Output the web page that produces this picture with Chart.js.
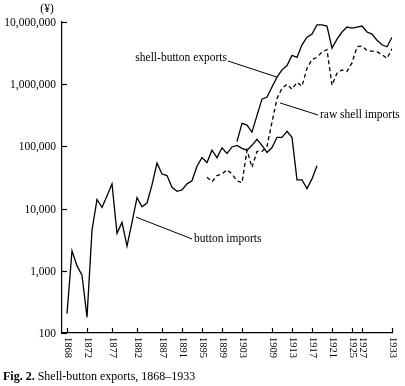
<!DOCTYPE html>
<html>
<head>
<meta charset="utf-8">
<script src="https://cdn.jsdelivr.net/npm/chart.js@4.4.1/dist/chart.umd.min.js"></script>
<style>
html, body { margin: 0; padding: 0; background: #fff; }
#wrap { position: relative; width: 405px; height: 386px; }
#caption { position: absolute; left: 3px; top: 369px; font: 12px "Liberation Serif", "Times New Roman", serif; color: #000; white-space: nowrap; line-height: 14px; }
</style>
</head>
<body>
<div id="wrap">
  <canvas id="chart" width="405" height="386"></canvas>
  <div id="caption"><b>Fig. 2.</b> Shell-button exports, 1868–1933</div>
</div>
<script>
// data (yen, log scale)
const buttonYears = [1868,1869,1870,1871,1872,1873,1874,1875,1876,1877,1878,1879,1880,1881,1882,1883,1884,1885,1886,1887,1888,1889,1890,1891,1892,1893,1894,1895,1896,1897,1898,1899,1900,1901,1902,1903,1904,1905,1906,1907,1908,1909,1910,1911,1912,1913,1914,1915,1916,1917,1918];
const buttonImports = [205,2100,1200,850,180,4500,14000,10500,16000,25000,4000,6000,2500,6000,15000,10700,12300,24000,54000,36000,34000,22000,19000,20000,25000,28000,48000,66000,55000,87000,66000,95000,77000,98000,104000,93000,87000,104000,130000,104000,80000,96000,140000,140000,175000,140000,29000,29000,21000,30000,49000];

const exportYears = [1902,1903,1904,1905,1906,1907,1908,1909,1910,1911,1912,1913,1914,1915,1916,1917,1918,1919,1920,1921,1922,1923,1924,1925,1926,1927,1928,1929,1930,1931,1932,1933];
const shellButtonExports = [120000,235000,220000,170000,315000,575000,620000,900000,1300000,1700000,2000000,2900000,2700000,4300000,5700000,6400000,9000000,9000000,8600000,3800000,5300000,6900000,8300000,8000000,8300000,8600000,6900000,6400000,5100000,4300000,4000000,5700000];

const shellYears = [1896,1897,1898,1899,1900,1901,1902,1903,1904,1905,1906,1907,1908,1909,1910,1911,1912,1913,1914,1915,1916,1917,1918,1919,1920,1921,1922,1923,1924,1925,1926,1927,1928,1929,1930,1931,1932,1933];
const rawShellImports = [32000,27000,34000,36000,42000,36000,28000,26000,87000,46000,83000,83000,100000,245000,590000,860000,1000000,830000,1070000,930000,1800000,2500000,2700000,3300000,3600000,960000,1500000,1700000,1600000,2200000,4000000,4100000,3500000,3400000,3300000,3000000,2600000,3700000];

const yTicks = [100, 1000, 10000, 100000, 1000000, 10000000];
const yTickLabels = ['100', '1,000', '10,000', '100,000', '1,000,000', '10,000,000'];
const xTickYears = [1868,1872,1877,1882,1887,1891,1895,1899,1903,1909,1913,1917,1921,1925,1927,1933];

// labels with leader lines, ends given in data units
const callouts = [
  { text: 'shell-button exports', from: [1900.2, 2360000], to: [1910, 1300000], side: 'left' },
  { text: 'raw shell imports', from: [1910.6, 500000], to: [1918.2, 320000], side: 'right' },
  { text: 'button imports', from: [1881.8, 7300], to: [1893, 3250], side: 'right' }
];

const FONT = '"Liberation Serif", "Times New Roman", serif';

const toPoints = (xs, ys) => xs.map((x, i) => ({ x: x, y: ys[i] }));

const axisDecor = {
  id: 'axisDecor',
  afterDraw(chart) {
    const ctx = chart.ctx;
    const xs = chart.scales.x, ys = chart.scales.y;
    const area = chart.chartArea;
    ctx.save();
    ctx.strokeStyle = '#000';
    ctx.fillStyle = '#000';
    ctx.lineWidth = 1.2;

    // y ticks (inward) + labels
    ctx.font = '11.5px ' + FONT;
    ctx.textAlign = 'right';
    ctx.textBaseline = 'middle';
    yTicks.forEach((v, i) => {
      const y = Math.round(ys.getPixelForValue(v)) + 0.5;
      ctx.beginPath();
      ctx.moveTo(area.left, y);
      ctx.lineTo(area.left + 5, y);
      ctx.stroke();
      ctx.fillText(yTickLabels[i], area.left - 6, y);
    });
    ctx.textAlign = 'center';
    ctx.fillText('(¥)', area.left - 15, area.top - 13);

    // x ticks (inward) + labels turned clockwise
    ctx.font = '10.5px ' + FONT;
    xTickYears.forEach(yr => {
      const x = Math.round(xs.getPixelForValue(yr)) + 0.5;
      ctx.beginPath();
      ctx.moveTo(x, area.bottom);
      ctx.lineTo(x, area.bottom - 5);
      ctx.stroke();
      ctx.save();
      ctx.translate(x, area.bottom + 4);
      ctx.rotate(Math.PI / 2);
      ctx.textAlign = 'left';
      ctx.textBaseline = 'middle';
      ctx.fillText(String(yr), 0, 0);
      ctx.restore();
    });

    // callouts
    ctx.font = '11.5px ' + FONT;
    ctx.lineWidth = 1;
    ctx.textBaseline = 'middle';
    callouts.forEach(c => {
      const x1 = xs.getPixelForValue(c.from[0]), y1 = ys.getPixelForValue(c.from[1]);
      const x2 = xs.getPixelForValue(c.to[0]), y2 = ys.getPixelForValue(c.to[1]);
      ctx.beginPath();
      ctx.moveTo(x1, y1);
      ctx.lineTo(x2, y2);
      ctx.stroke();
      if (c.side === 'left') {
        ctx.textAlign = 'right';
        ctx.fillText(c.text, x1 - 1, y1 - 3);
      } else {
        ctx.textAlign = 'left';
        ctx.fillText(c.text, x2 + 2, y2);
      }
    });
    ctx.restore();
  }
};

const lineStyle = { borderColor: '#000', borderWidth: 1.3, pointRadius: 0, tension: 0, fill: false };

new Chart(document.getElementById('chart'), {
  type: 'line',
  data: {
    datasets: [
      Object.assign({ label: 'button imports', data: toPoints(buttonYears, buttonImports) }, lineStyle),
      Object.assign({ label: 'shell-button exports', data: toPoints(exportYears, shellButtonExports) }, lineStyle),
      Object.assign({ label: 'raw shell imports', data: toPoints(shellYears, rawShellImports), borderDash: [4, 3] }, lineStyle)
    ]
  },
  options: {
    responsive: false,
    animation: false,
    devicePixelRatio: 1,
    layout: { padding: { left: 62, right: 13, top: 22, bottom: 53 } },
    plugins: { legend: { display: false }, tooltip: { enabled: false } },
    scales: {
      x: {
        type: 'linear', min: 1867, max: 1933,
        grid: { display: false, drawTicks: false },
        ticks: { display: false },
        border: { display: true, color: '#000', width: 1.2 }
      },
      y: {
        type: 'logarithmic', min: 100, max: 10000000,
        grid: { display: false, drawTicks: false },
        ticks: { display: false },
        border: { display: true, color: '#000', width: 1.2 }
      }
    }
  },
  plugins: [axisDecor]
});
</script>
</body>
</html>
